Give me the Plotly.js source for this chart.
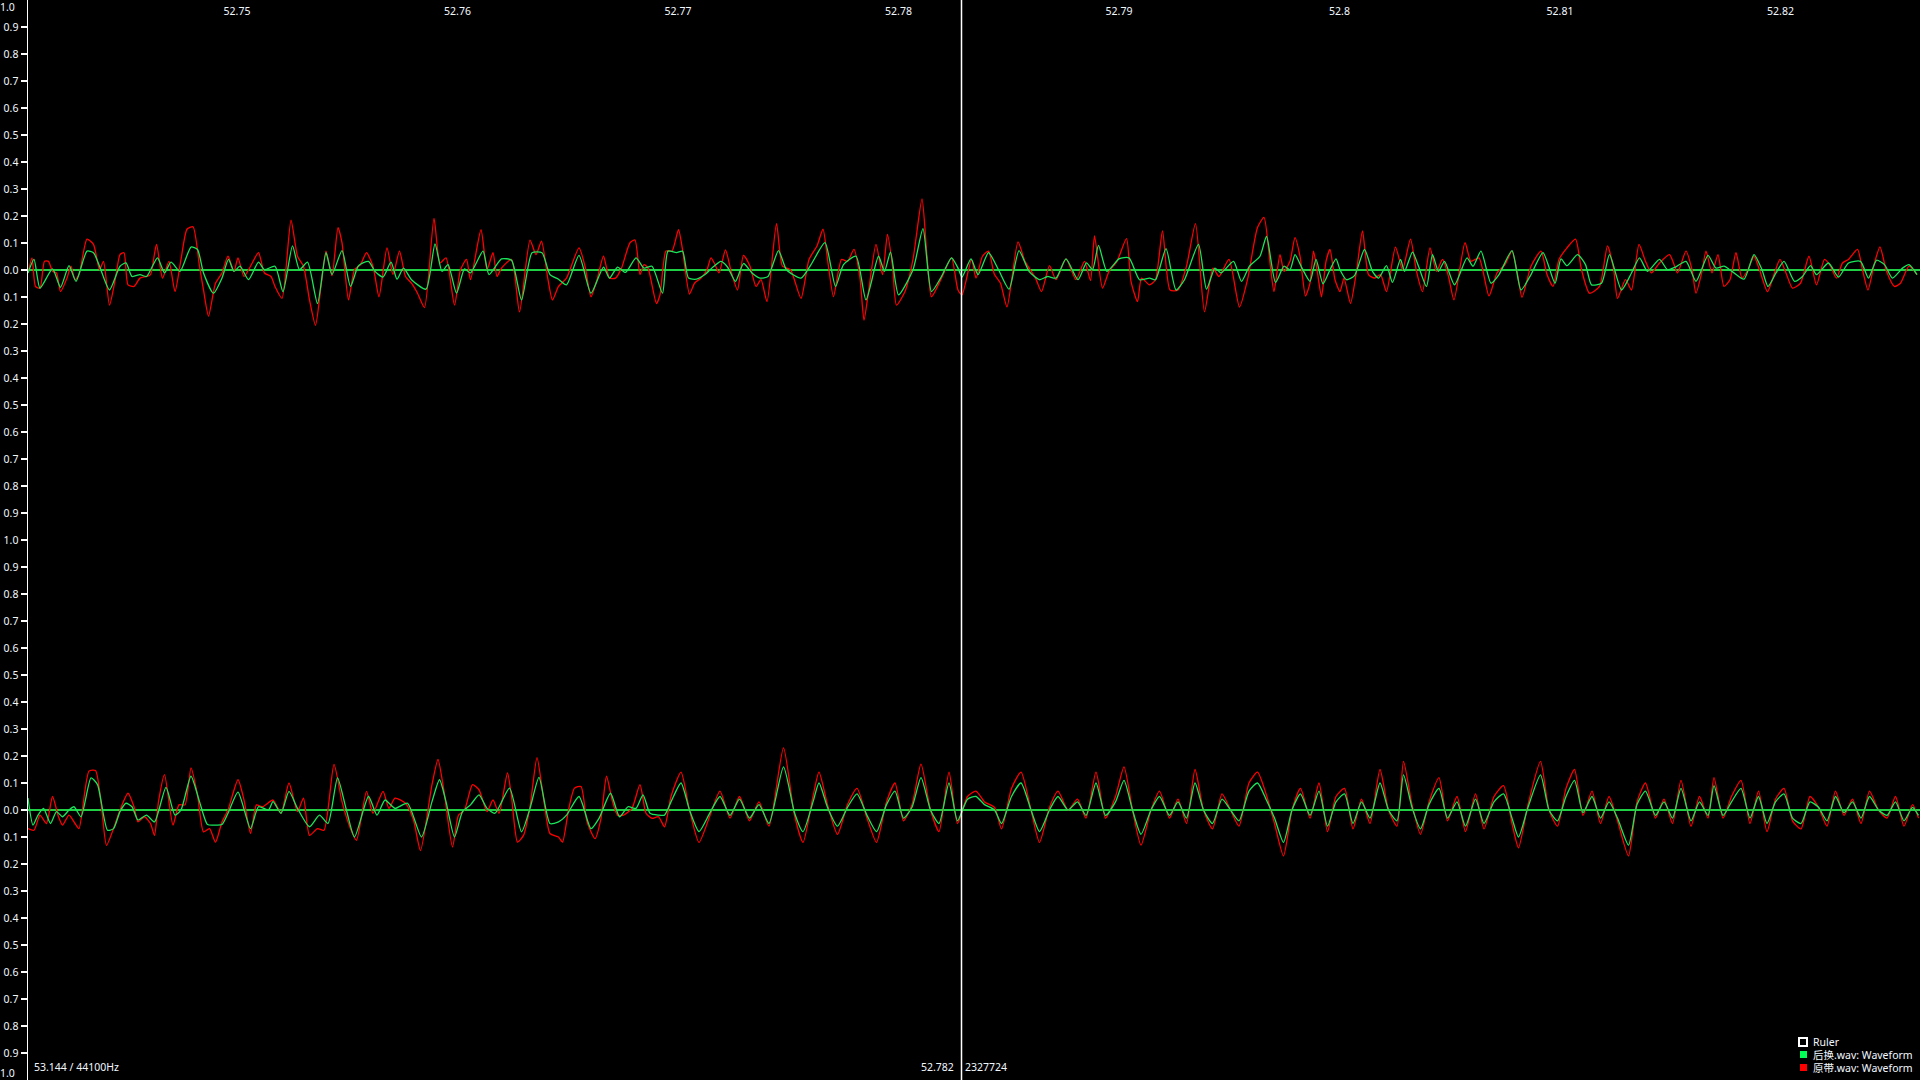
<!DOCTYPE html>
<html>
<head>
<meta charset="utf-8">
<script src="https://cdn.plot.ly/plotly-3.0.1.min.js"></script>
<style>
html,body{margin:0;padding:0;background:#000;overflow:hidden;}
#chart{width:1920px;height:1080px;}
</style>
</head>
<body>
<div id="chart"></div>
<script>
// ---- data (sample offsets relative to START_SAMPLE, amplitude) ----
const SAMPLE_RATE = 44100;
const START_SAMPLE = 2325857;
const END_SAMPLE = 2329641;
const RULER_SAMPLE = 2327724;

const xTickVals = [52.75, 52.76, 52.77, 52.78, 52.79, 52.80, 52.81, 52.82];
const xTickText = ['52.75', '52.76', '52.77', '52.78', '52.79', '52.8', '52.81', '52.82'];
const yTickVals = [-1.0,-0.9,-0.8,-0.7,-0.6,-0.5,-0.4,-0.3,-0.2,-0.1,0.0,0.1,0.2,0.3,0.4,0.5,0.6,0.7,0.8,0.9,1.0];
const yTickText = ['1.0','0.9','0.8','0.7','0.6','0.5','0.4','0.3','0.2','0.1','0.0','0.1','0.2','0.3','0.4','0.5','0.6','0.7','0.8','0.9','1.0'];

const seriesNames = ['后换.wav: Waveform', '原带.wav: Waveform'];

const topRed = [[0,-0.011],[8,0.045],[15,-0.061],[24,-0.067],[33,0.032],[41,0.032],[49,-0.005],[57,-0.011],[65,-0.080],[78,-0.030],[86,0.014],[94,-0.036],[102,-0.017],[118,0.114],[131,0.095],[143,0.001],[151,0.032],[163,-0.130],[175,-0.030],[184,0.057],[192,0.064],[200,-0.055],[212,-0.061],[224,-0.030],[237,-0.024],[245,-0.017],[257,0.095],[269,-0.030],[282,0.032],[294,-0.080],[306,0.039],[318,0.151],[330,0.160],[343,0.014],[351,-0.074],[361,-0.171],[375,-0.049],[388,-0.011],[400,0.051],[412,-0.005],[420,0.045],[432,-0.024],[445,0.014],[461,0.064],[473,-0.011],[486,-0.024],[494,-0.061],[508,-0.105],[526,0.185],[539,0.051],[551,0.014],[563,-0.111],[575,-0.205],[586,-0.061],[596,0.070],[608,-0.021],[620,0.157],[628,0.101],[641,-0.111],[653,0.001],[665,0.020],[677,0.064],[690,0.014],[702,-0.099],[718,0.082],[730,-0.017],[743,0.070],[755,-0.024],[767,-0.049],[779,-0.086],[793,-0.139],[812,0.191],[824,0.026],[836,0.045],[853,-0.130],[865,0.001],[877,0.039],[885,-0.036],[906,0.149],[918,0.001],[930,0.064],[938,-0.024],[947,0.007],[967,0.039],[983,-0.155],[1004,0.111],[1016,0.057],[1027,0.107],[1040,-0.036],[1049,-0.111],[1061,-0.061],[1077,-0.030],[1102,0.082],[1114,0.014],[1126,-0.099],[1138,-0.036],[1151,0.051],[1163,-0.030],[1175,-0.030],[1187,0.007],[1204,0.101],[1214,0.111],[1224,-0.017],[1232,0.020],[1240,0.007],[1257,-0.124],
[1264,-0.092],[1276,0.070],[1288,0.070],[1301,0.149],[1309,0.076],[1323,-0.089],[1333,-0.049],[1346,-0.030],[1358,0.001],[1366,0.045],[1374,0.020],[1382,-0.011],[1395,0.074],[1407,-0.011],[1419,-0.074],[1431,0.054],[1444,0.014],[1456,-0.061],[1466,-0.036],[1478,-0.117],[1497,0.172],[1509,0.014],[1525,0.001],[1546,-0.105],[1562,0.039],[1578,0.089],[1590,0.151],[1600,0.026],[1611,-0.099],[1627,0.039],[1639,0.032],[1652,0.076],[1664,-0.030],[1672,-0.186],[1682,-0.067],[1696,0.095],[1709,-0.017],[1719,0.132],[1729,0.014],[1737,-0.130],[1754,-0.080],[1770,0.039],[1788,0.263],[1798,0.051],[1807,-0.099],[1827,-0.030],[1847,0.045],[1860,-0.074],[1868,-0.092],[1887,0.039],[1896,-0.030],[1909,0.051],[1921,0.070],[1933,-0.017],[1945,-0.049],[1958,-0.137],[1980,0.104],[1994,0.032],[2015,-0.030],[2027,-0.080],[2043,0.016],[2056,-0.036],[2076,0.041],[2096,-0.036],[2113,0.032],[2125,-0.039],[2133,0.126],[2149,-0.067],[2162,-0.005],[2178,0.032],[2197,0.116],[2206,-0.042],[2219,-0.117],[2227,-0.030],[2243,-0.055],[2255,-0.036],[2269,0.145],[2284,-0.074],[2300,-0.074],[2317,0.014],[2335,0.172],[2353,-0.155],[2370,0.007],[2382,-0.024],[2402,0.039],[2423,-0.137],[2439,-0.036],[2459,0.157],[2472,0.195],[2484,0.026],[2492,-0.080],[2504,0.057],[2512,-0.005],
[2524,0.032],[2534,0.120],[2544,0.051],[2555,-0.096],[2564,-0.049],[2571,0.070],[2579,-0.011],[2587,-0.099],[2596,0.032],[2604,0.076],[2614,-0.036],[2624,-0.080],[2632,-0.030],[2645,-0.124],[2657,-0.005],[2669,0.145],[2681,-0.017],[2693,-0.030],[2705,-0.017],[2717,-0.080],[2735,0.085],[2749,0.001],[2765,0.114],[2777,-0.005],[2789,-0.080],[2804,0.082],[2817,-0.005],[2829,0.039],[2841,-0.024],[2852,-0.111],[2874,0.101],[2886,0.032],[2902,0.045],[2922,-0.096],[2938,-0.011],[2954,0.020],[2968,0.070],[2978,-0.005],[2988,-0.101],[3006,0.014],[3026,0.070],[3038,-0.017],[3050,-0.061],[3062,0.039],[3078,0.082],[3095,0.114],[3107,0.001],[3123,-0.086],[3143,-0.061],[3159,0.089],[3171,0.007],[3179,-0.105],[3195,-0.036],[3207,-0.074],[3222,0.095],[3235,0.032],[3247,-0.011],[3263,0.026],[3283,0.057],[3291,0.026],[3299,-0.011],[3316,0.070],[3328,0.001],[3336,-0.086],[3348,-0.005],[3356,0.070],[3368,-0.011],[3380,0.057],[3392,-0.061],[3404,-0.036],[3416,0.064],[3428,-0.030],[3440,0.001],[3452,0.051],[3464,-0.005],[3479,-0.080],[3492,-0.017],[3504,0.039],[3516,-0.011],[3529,-0.067],[3545,-0.049],[3562,0.051],[3577,-0.055],[3593,0.039],[3605,0.014],[3617,-0.030],[3629,0.026],[3641,0.039],[3659,0.076],[3669,0.001],[3680,-0.074],[3693,0.026],[3704,0.086],[3717,-0.005],[3733,-0.061],[3745,-0.049],[3762,0.014],[3778,-0.017]];

const topGreen = [[0,-0.011],[12,0.039],[24,-0.067],[49,0.004],[65,-0.064],[82,0.016],[96,-0.042],[118,0.070],[131,0.064],[143,0.014],[163,-0.074],[184,0.014],[196,0.026],[208,-0.024],[224,-0.017],[237,-0.024],[259,0.045],[273,-0.011],[286,0.029],[304,-0.005],[326,0.085],[339,0.076],[351,-0.011],[371,-0.086],[388,-0.030],[401,0.039],[412,-0.005],[424,0.014],[441,-0.036],[461,0.029],[473,0.001],[494,0.014],[510,-0.080],[529,0.089],[543,0.001],[559,0.029],[579,-0.124],[596,0.064],[608,-0.017],[628,0.072],[645,-0.061],[661,0.016],[681,0.032],[694,-0.005],[710,-0.026],[726,0.029],[738,-0.034],[751,0.007],[767,-0.036],[796,-0.071],[814,0.097],[828,-0.005],[840,0.020],[857,-0.086],[873,0.004],[885,-0.011],[910,0.070],[922,-0.017],[947,0.041],[967,0.036],[987,-0.111],[1008,0.064],[1028,0.064],[1044,-0.017],[1061,-0.034],[1077,-0.055],[1102,0.054],[1126,-0.086],[1151,0.011],[1163,-0.030],[1179,0.011],[1195,-0.009],[1216,0.045],[1232,0.007],[1248,0.014],[1269,-0.086],
[1280,0.070],[1297,0.064],[1309,0.070],[1321,-0.030],[1337,-0.034],[1354,-0.017],[1370,0.011],[1386,0.032],[1399,0.011],[1415,-0.042],[1431,0.024],[1448,-0.011],[1464,-0.030],[1480,-0.024],[1501,0.072],[1517,0.001],[1546,-0.030],[1566,0.020],[1594,0.101],[1615,-0.061],[1631,0.020],[1656,0.051],[1676,-0.111],[1701,0.051],[1713,-0.005],[1725,0.066],[1741,-0.092],[1770,0.001],[1790,0.153],[1807,-0.080],[1827,-0.024],[1847,0.045],[1860,0.007],[1868,-0.026],[1886,0.041],[1900,-0.017],[1921,0.064],[1941,0.001],[1962,-0.071],[1982,0.072],[2002,-0.005],[2023,-0.036],[2039,-0.024],[2056,-0.030],[2076,0.041],[2100,-0.036],[2117,0.026],[2129,0.001],[2141,0.091],[2158,-0.005],[2182,0.041],[2202,0.045],[2223,-0.036],[2243,-0.030],[2255,-0.036],[2276,0.079],[2296,-0.074],[2313,-0.036],[2341,0.095],[2357,-0.071],[2374,0.007],[2386,-0.011],[2411,0.032],[2427,-0.042],[2443,0.014],[2464,0.051],[2477,0.124],[2495,-0.046],[2512,0.014],
[2524,0.001],[2534,0.057],[2548,0.007],[2564,-0.042],[2576,0.039],[2590,-0.051],[2604,0.001],[2616,0.041],[2624,0.001],[2637,-0.036],[2653,-0.021],[2673,0.076],[2689,-0.005],[2701,-0.030],[2717,0.016],[2729,-0.046],[2745,0.039],[2753,-0.005],[2769,0.066],[2781,0.014],[2797,-0.061],[2809,0.057],[2821,-0.005],[2833,0.032],[2853,-0.055],[2878,0.045],[2890,0.014],[2906,0.070],[2926,-0.049],[2942,-0.017],[2968,0.072],[2986,-0.074],[3006,-0.017],[3030,0.064],[3054,-0.049],[3066,0.041],[3078,0.016],[3099,0.057],[3115,0.020],[3127,-0.055],[3147,-0.049],[3163,0.057],[3187,-0.074],[3207,-0.011],[3223,0.045],[3239,-0.005],[3263,0.039],[3279,0.001],[3295,0.011],[3316,0.032],[3336,-0.042],[3360,0.054],[3376,0.007],[3392,0.014],[3408,-0.005],[3432,-0.034],[3452,0.057],[3468,0.001],[3480,-0.061],[3496,-0.011],[3512,0.032],[3533,-0.042],[3549,-0.024],[3565,0.016],[3577,-0.017],[3601,0.026],[3621,-0.026],[3641,0.026],[3665,0.032],[3681,-0.030],[3697,0.036],[3713,0.020],[3729,-0.030],[3749,0.007],[3762,0.020],[3778,-0.017]];

const botRed = [[0,-0.069],[12,-0.075],[24,-0.019],[37,-0.050],[49,0.050],[61,-0.025],[69,-0.056],[82,-0.019],[94,-0.050],[102,-0.069],[122,0.144],[135,0.146],[147,0.012],[157,-0.131],[171,-0.069],[184,0.000],[200,0.062],[212,0.012],[220,-0.044],[233,-0.025],[245,-0.050],[253,-0.094],[261,0.031],[273,0.131],[290,-0.056],[302,0.019],[314,0.019],[326,0.156],[339,0.056],[351,-0.081],[363,-0.069],[375,-0.119],[388,-0.044],[400,0.000],[420,0.112],[432,0.037],[445,-0.087],[457,0.019],[469,0.012],[490,0.037],[506,-0.012],[522,0.100],[539,-0.006],[551,0.044],[563,-0.094],[579,-0.069],[592,-0.075],[612,0.169],[628,0.031],[645,-0.069],[657,-0.112],[677,0.069],[690,-0.012],[710,0.069],[722,0.006],[734,0.044],[755,0.025],[771,-0.037],[785,-0.150],[808,0.094],[820,0.187],[832,0.069],[849,-0.137],[861,-0.019],[873,0.000],[889,0.094],[902,0.075],[918,-0.006],[930,0.037],[942,-0.012],[959,0.137],[967,0.050],[979,-0.119],[991,-0.094],[1004,0.012],[1018,0.194],[1032,0.031],[1044,-0.087],[1061,-0.100],[1069,-0.119],[1081,0.000],[1093,0.081],[1106,0.087],[1118,-0.044],[1134,-0.106],[1146,-0.031],[1157,0.125],[1169,0.031],[1179,-0.019],[1191,-0.019],[1208,0.006],[1224,0.094],[1236,-0.012],[1248,-0.031],[1261,-0.025],[1273,-0.062],
[1286,0.05],[1306,0.14],[1323,0.0],[1342,-0.12],[1364,-0.02],[1384,0.07],[1404,-0.03],[1423,0.05],[1443,-0.04],[1462,0.03],[1482,-0.06],[1511,0.23],[1533,-0.02],[1550,-0.12],[1570,0.05],[1582,0.14],[1599,0.02],[1619,-0.09],[1639,0.02],[1658,0.08],[1678,-0.03],[1697,-0.12],[1717,0.03],[1734,0.10],[1751,-0.04],[1768,0.02],[1786,0.17],[1805,0.0],[1822,-0.08],[1842,0.14],[1859,-0.05],[1879,0.05],[1896,0.07],[1913,0.03],[1933,0.01],[1947,-0.07],[1967,0.08],[1986,0.14],[2006,0.0],[2023,-0.12],[2043,0.01],[2060,0.07],[2080,0.0],[2099,0.04],[2116,-0.03],[2136,0.14],[2155,-0.03],[2175,0.05],[2192,0.16],[2209,0.0],[2226,-0.13],[2246,0.0],[2263,0.07],[2283,-0.03],[2300,0.04],[2317,-0.05],[2334,0.15],[2351,0.0],[2369,-0.07],[2388,0.06],[2405,0.0],[2422,-0.06],[2442,0.10],[2459,0.14],[2476,0.06],[2493,-0.05],[2511,-0.17],[2528,0.0],[2545,0.08],[2564,-0.03],[2582,0.10],[2599,-0.08],[2616,0.05],[2633,0.08],[2650,-0.07],[2667,0.04],[2684,-0.05],[2704,0.15],[2721,0.0],[2738,-0.06],[2751,0.18],[2768,0.02],[2785,-0.09],[2802,0.03],[2822,0.12],[2839,-0.04],[2858,0.05],[2875,-0.08],[2895,0.06],[2912,-0.07],[2932,0.05],[2951,0.09],[2968,-0.05],[2981,-0.14],[3000,0.02],[3025,0.18],[3042,0.0],[3059,-0.06],[3076,0.08],[3093,0.15],[3110,-0.02],[3128,0.07],[3145,-0.05],[3162,0.05],[3179,-0.04],[3201,-0.17],[3218,0.03],[3235,0.10],[3255,-0.03],[3272,0.04],[3289,-0.05],[3306,0.11],[3326,-0.06],[3343,0.05],[3360,-0.03],[3372,0.12],[3390,-0.03],[3407,0.05],[3426,0.11],[3444,-0.05],[3461,0.07],[3478,-0.08],[3495,0.04],[3512,0.08],[3529,-0.04],[3546,-0.07],[3564,0.05],[3581,0.01],[3598,-0.06],[3615,0.07],[3632,-0.02],[3649,0.04],[3666,-0.05],[3683,0.07],[3701,0.0],[3718,-0.03],[3735,0.05],[3752,-0.06],[3769,0.02],[3781,-0.03]];

const botGreen = [[0,0.044],[10,-0.056],[20,-0.019],[31,0.006],[45,-0.050],[57,-0.006],[69,-0.025],[82,0.000],[92,0.012],[106,-0.025],[126,0.119],[139,0.094],[159,-0.075],[171,-0.069],[184,-0.006],[196,0.025],[208,0.012],[220,-0.037],[237,-0.019],[253,-0.044],[276,0.084],[294,-0.019],[306,0.000],[326,0.125],[343,0.031],[359,-0.054],[375,-0.056],[388,-0.054],[400,-0.012],[420,0.066],[445,-0.069],[461,0.012],[481,0.000],[490,0.031],[506,-0.012],[522,0.069],[539,0.006],[563,-0.062],[583,-0.019],[600,-0.050],[619,0.119],[636,0.006],[653,-0.100],[681,0.050],[698,-0.019],[714,0.037],[734,0.006],[759,0.025],[787,-0.100],[808,0.031],[823,0.112],[836,0.031],[853,-0.100],[869,-0.006],[885,0.019],[902,0.056],[918,0.006],[934,-0.012],[963,0.081],[987,-0.081],[1004,0.006],[1022,0.121],[1044,-0.050],[1061,-0.044],[1077,-0.019],[1102,0.050],[1126,-0.069],[1142,-0.031],[1165,0.062],[1183,-0.025],[1200,0.012],[1216,0.006],[1230,0.056],[1244,-0.012],[1261,-0.019],[1273,-0.019],
[1286,0.03],[1306,0.10],[1323,0.0],[1342,-0.08],[1364,-0.01],[1384,0.05],[1404,-0.02],[1423,0.04],[1443,-0.03],[1462,0.02],[1482,-0.05],[1511,0.16],[1533,-0.01],[1550,-0.08],[1570,0.03],[1582,0.10],[1599,0.01],[1619,-0.06],[1639,0.01],[1658,0.06],[1678,-0.02],[1697,-0.08],[1717,0.02],[1734,0.07],[1751,-0.03],[1768,0.01],[1786,0.12],[1805,0.0],[1822,-0.05],[1842,0.10],[1859,-0.04],[1879,0.04],[1896,0.05],[1913,0.02],[1933,0.0],[1947,-0.05],[1967,0.05],[1986,0.10],[2006,0.0],[2023,-0.08],[2043,0.0],[2060,0.05],[2080,0.0],[2099,0.03],[2116,-0.02],[2136,0.10],[2155,-0.02],[2175,0.03],[2192,0.11],[2209,0.0],[2226,-0.09],[2246,0.0],[2263,0.05],[2283,-0.02],[2300,0.03],[2317,-0.03],[2334,0.10],[2351,0.0],[2369,-0.05],[2388,0.04],[2405,0.0],[2422,-0.04],[2442,0.07],[2459,0.10],[2476,0.04],[2493,-0.03],[2511,-0.12],[2528,0.0],[2545,0.06],[2564,-0.02],[2582,0.07],[2599,-0.06],[2616,0.03],[2633,0.06],[2650,-0.05],[2667,0.03],[2684,-0.03],[2704,0.10],[2721,0.0],[2738,-0.04],[2751,0.13],[2768,0.01],[2785,-0.07],[2802,0.02],[2822,0.08],[2839,-0.03],[2858,0.03],[2875,-0.06],[2895,0.04],[2912,-0.05],[2932,0.03],[2951,0.06],[2968,-0.03],[2981,-0.10],[3000,0.01],[3025,0.13],[3042,0.0],[3059,-0.04],[3076,0.05],[3093,0.11],[3110,-0.01],[3128,0.05],[3145,-0.03],[3162,0.03],[3179,-0.03],[3201,-0.13],[3218,0.02],[3235,0.07],[3255,-0.02],[3272,0.03],[3289,-0.03],[3306,0.08],[3326,-0.04],[3343,0.03],[3360,-0.02],[3372,0.09],[3390,-0.02],[3407,0.03],[3426,0.08],[3444,-0.03],[3461,0.05],[3478,-0.05],[3495,0.03],[3512,0.06],[3529,-0.03],[3546,-0.05],[3564,0.03],[3581,0.01],[3598,-0.04],[3615,0.05],[3632,-0.01],[3649,0.03],[3666,-0.03],[3683,0.05],[3701,0.0],[3718,-0.02],[3735,0.03],[3752,-0.04],[3769,0.01],[3781,-0.02]];

// ---- rendering ----
const RED = '#ff0000';
const GREEN = '#19e65a';
const ZERO = '#1fd045';
const FONT = "'Noto Sans', 'Noto Sans CJK SC', sans-serif";
const TXT = '#f2f8ff';

const toT = s => (START_SAMPLE + s) / SAMPLE_RATE;
function trace(pairs, color, xa, ya, name) {
  return {
    type: 'scatter', mode: 'lines', name: name, showlegend: false,
    x: pairs.map(p => toT(p[0])), y: pairs.map(p => p[1]),
    xaxis: xa, yaxis: ya,
    line: {color: color, width: 1.3, shape: 'spline', smoothing: 0.6},
    hoverinfo: 'skip'
  };
}

const data = [
  trace(topRed, RED, 'x', 'y', seriesNames[1]),
  trace(topGreen, GREEN, 'x', 'y', seriesNames[0]),
  trace(botRed, RED, 'x2', 'y2', seriesNames[1]),
  trace(botGreen, GREEN, 'x2', 'y2', seriesNames[0])
];

const tStart = START_SAMPLE / SAMPLE_RATE;
const tEnd = END_SAMPLE / SAMPLE_RATE;
const tRuler = RULER_SAMPLE / SAMPLE_RATE;

const yBase = {
  range: [-1, 1], fixedrange: true,
  ticks: 'outside', ticklen: 6, tickwidth: 1.5, tickcolor: '#ffffff',
  showline: true, linecolor: '#ffffff', linewidth: 1.5,
  showgrid: false, zeroline: true, zerolinecolor: ZERO, zerolinewidth: 1.5,
  tickfont: {family: FONT, size: 10.5, color: TXT}
};

const W = 1892, H = 1080, L = 28;
const px = x => (x - L) / W;
const py = y => 1 - y / H;

const annFont = {family: FONT, size: 10.5, color: TXT};
const layout = {
  width: 1920, height: 1080,
  margin: {l: L, r: 0, t: 0, b: 0, pad: 0},
  paper_bgcolor: '#000000', plot_bgcolor: '#000000',
  showlegend: false,
  xaxis: {
    domain: [0, 1], range: [tStart, tEnd], anchor: 'y', side: 'top',
    tickvals: xTickVals, ticktext: xTickText, ticklabelposition: 'inside',
    ticks: 'inside', ticklen: 7, tickcolor: 'rgba(0,0,0,0)',
    showgrid: false, zeroline: false, showline: false,
    tickfont: {family: FONT, size: 10.5, color: TXT}
  },
  xaxis2: {
    domain: [0, 1], range: [tStart, tEnd], anchor: 'y2', matches: 'x',
    showticklabels: false, ticks: '', showgrid: false, zeroline: false, showline: false
  },
  yaxis: Object.assign({}, yBase, {domain: [0.5, 1], anchor: 'x',
    tickvals: yTickVals.slice(0, 20), ticktext: yTickText.slice(0, 20)}),
  yaxis2: Object.assign({}, yBase, {domain: [0, 0.5], anchor: 'x2',
    tickvals: yTickVals.slice(1, 20), ticktext: yTickText.slice(1, 20)}),
  shapes: [
    {type: 'line', xref: 'x', yref: 'paper', x0: tRuler, x1: tRuler, y0: 0, y1: 1,
     line: {color: '#ffffff', width: 1.5}},
    {type: 'rect', xref: 'paper', yref: 'paper', x0: px(1799), x1: px(1807), y0: py(1046), y1: py(1038),
     line: {color: '#ffffff', width: 2}, fillcolor: 'rgba(0,0,0,0)'},
    {type: 'rect', xref: 'paper', yref: 'paper', x0: px(1800), x1: px(1807), y0: py(1058), y1: py(1051),
     line: {width: 0}, fillcolor: '#00ff55'},
    {type: 'rect', xref: 'paper', yref: 'paper', x0: px(1800), x1: px(1807), y0: py(1071), y1: py(1064),
     line: {width: 0}, fillcolor: '#ff0000'}
  ],
  annotations: [
    {xref: 'paper', yref: 'paper', x: px(17), y: py(7), xanchor: 'right', yanchor: 'middle', text: '1.0', showarrow: false, font: {family: FONT, size: 10.5, color: TXT}},
    {xref: 'paper', yref: 'paper', x: px(17), y: py(1073), xanchor: 'right', yanchor: 'middle', text: '1.0', showarrow: false, font: {family: FONT, size: 10.5, color: TXT}},
    {xref: 'paper', yref: 'paper', x: px(32), y: py(1067), xanchor: 'left', yanchor: 'middle', text: '53.144 / 44100Hz', showarrow: false, font: annFont},
    {xref: 'paper', yref: 'paper', x: px(956), y: py(1067), xanchor: 'right', yanchor: 'middle', text: '52.782', showarrow: false, font: annFont},
    {xref: 'paper', yref: 'paper', x: px(963), y: py(1067), xanchor: 'left', yanchor: 'middle', text: String(RULER_SAMPLE), showarrow: false, font: annFont},
    {xref: 'paper', yref: 'paper', x: px(1811), y: py(1042), xanchor: 'left', yanchor: 'middle', text: 'Ruler', showarrow: false, font: annFont},
    {xref: 'paper', yref: 'paper', x: px(1811), y: py(1055), xanchor: 'left', yanchor: 'middle', text: seriesNames[0], showarrow: false, font: annFont},
    {xref: 'paper', yref: 'paper', x: px(1811), y: py(1068), xanchor: 'left', yanchor: 'middle', text: seriesNames[1], showarrow: false, font: annFont}
  ]
};

Plotly.newPlot('chart', data, layout, {displayModeBar: false, staticPlot: true});
</script>
</body>
</html>
